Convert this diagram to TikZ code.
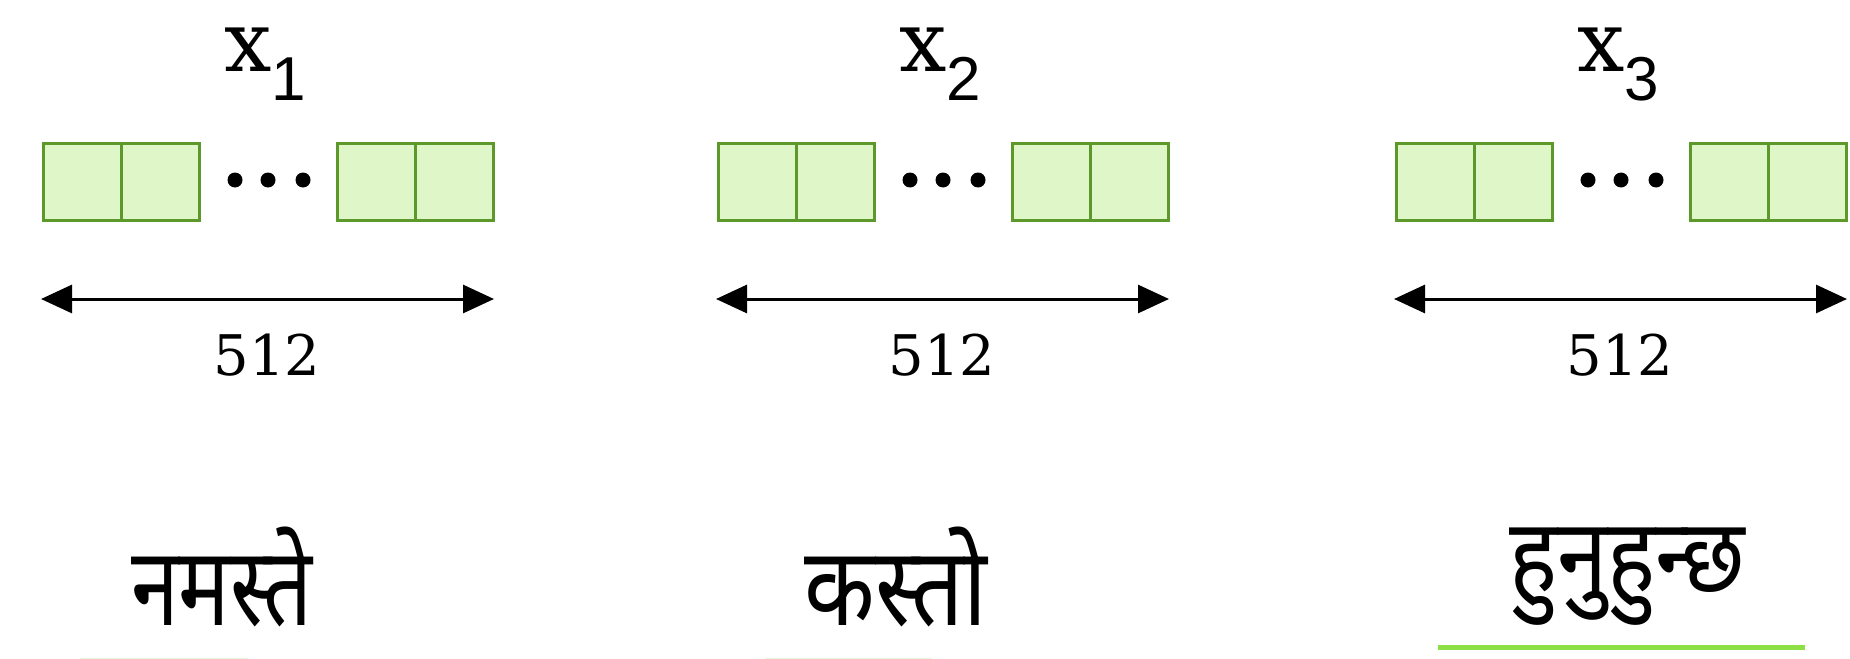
\documentclass[tikz,border=0pt]{standalone}
\usepackage{fontspec}
\usetikzlibrary{arrows.meta}
\newfontfamily\devfont[Script=Devanagari]{Noto Sans}
\newfontfamily\subfont{Liberation Sans}
\newfontfamily\serfont{DejaVu Serif}
\definecolor{cellfill}{RGB}{222,246,200}
\definecolor{cellline}{RGB}{92,152,42}
\definecolor{ulgreen}{RGB}{140,224,70}
\definecolor{ulpale}{RGB}{236,245,215}
\begin{document}
\begin{tikzpicture}[x=0.5pt,y=-0.5pt,
  cell/.style={draw=cellline, fill=cellfill, line width=1.3pt, minimum width=39pt, minimum height=38.5pt, inner sep=0pt, anchor=north west},
  dotnode/.style={circle, fill=black, inner sep=0pt, minimum size=7.5pt},
  dimarrow/.style={line width=1.5pt, {Triangle[length=15.5pt,width=14pt]}-{Triangle[length=15.5pt,width=14pt]}},
  xlabel/.style={anchor=base, inner sep=0pt, font=\serfont\fontsize{42}{42}\selectfont},
  sublabel/.style={anchor=base west, inner sep=0pt, font=\subfont\fontsize{31}{31}\selectfont},
  numlabel/.style={anchor=base, inner sep=0pt, font=\serfont\fontsize{28}{28}\selectfont},
  word/.style={anchor=base, inner sep=0pt},
  uline/.style={line width=2.5pt, ulgreen},
  ulinepale/.style={line width=2.5pt, ulpale}]
\useasboundingbox (0,0) rectangle (1850,658);
\foreach \g/\L in {1/42, 2/717, 3/1395} {
  \node[cell] (c\g a) at (\L,142) {};
  \node[cell] (c\g b) at (\L+78,142) {};
  \node[cell] (c\g c) at (\L+294,142) {};
  \node[cell] (c\g d) at (\L+372,142) {};
  \node[dotnode] (d\g a) at (\L+193,180) {};
  \node[dotnode] (d\g b) at (\L+226,180) {};
  \node[dotnode] (d\g c) at (\L+261,180) {};
  \node[xlabel] (x\g) at (\L+206,72) {x};
  \node[sublabel] (s\g) at (\L+229,100) {\g};
  \coordinate (al\g) at (\L-1,299);
  \coordinate (ar\g) at (\L+452,299);
  \draw[dimarrow] (al\g) -- (ar\g);
  \node[numlabel] (n\g) at (\L+225,375) {512};
}
\node[word] (w1) at (222,625) {\devfont\fontsize{50}{50}\selectfont\scalebox{0.86}[1.10]{नमस्ते}};
\node[word] (w2) at (896,625) {\devfont\fontsize{50}{50}\selectfont\scalebox{0.92}[1.10]{कस्तो}};
\node[word] (w3) at (1627,592) {\devfont\fontsize{44}{44}\selectfont\scalebox{1.03}[1.18]{हुनुहुन्छ}};
\coordinate (u1a) at (80,660);
\coordinate (u1b) at (248,660);
\coordinate (u2a) at (765,660);
\coordinate (u2b) at (932,660);
\coordinate (u3a) at (1438,647);
\coordinate (u3b) at (1805,647);
\draw[ulinepale] (u1a) -- (u1b);
\draw[ulinepale] (u2a) -- (u2b);
\draw[uline] (u3a) -- (u3b);
\end{tikzpicture}
\end{document}
